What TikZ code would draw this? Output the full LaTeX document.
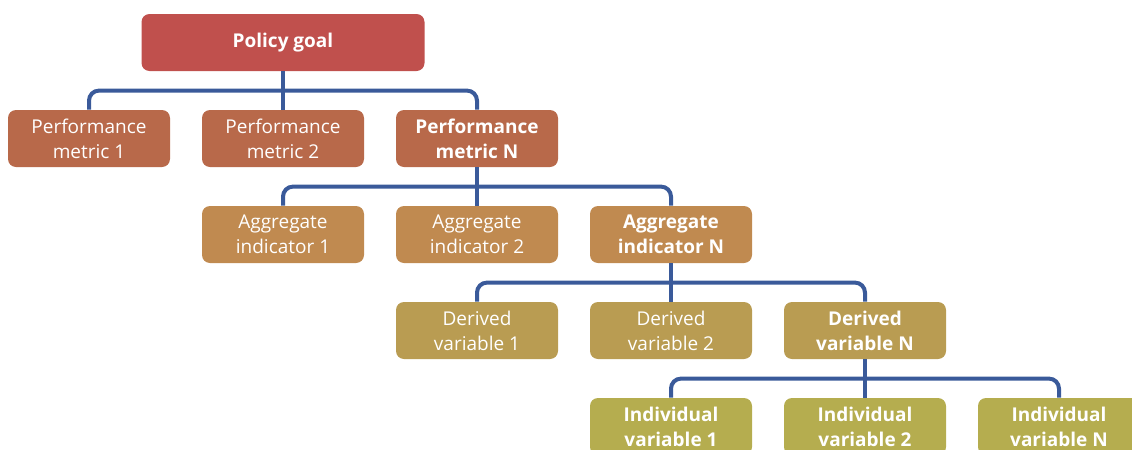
\documentclass[tikz,border=0pt]{standalone}
\usepackage{fontspec}
\setmainfont{Open Sans}
\usetikzlibrary{positioning}

\definecolor{goalred}{HTML}{C0504D}
\definecolor{metricred}{HTML}{B8694A}
\definecolor{aggbrown}{HTML}{C08A50}
\definecolor{derivedgold}{HTML}{B99C52}
\definecolor{indolive}{HTML}{B5AD4F}
\definecolor{linkblue}{HTML}{3A5A9A}

\begin{document}
\begin{tikzpicture}[%
        node distance=48pt and 97pt,
        on grid,
        box/.style={rectangle, rounded corners=4pt, inner sep=0pt,
                    minimum width=81pt, minimum height=28.5pt,
                    align=center, text=white,
                    font=\fontsize{9.5}{12.5}\selectfont},
        link/.style={draw=linkblue, line width=2pt, rounded corners=5pt}
        ]

        \useasboundingbox (0,0) rectangle (566pt,-225pt);

        \node[box, fill=goalred, minimum width=141.5pt, font=\fontsize{9.5}{12.5}\selectfont\bfseries]
              (goal) at (141.5pt,-21.25pt) {Policy goal};

        \node[box, fill=metricred] (m2) [below=of goal] {Performance\\metric 2};
        \node[box, fill=metricred] (m1) [left=of m2] {Performance\\metric 1};
        \node[box, fill=metricred] (m3) [right=of m2] {\bfseries Performance\\\bfseries metric N};

        \node[box, fill=aggbrown] (a2) [below=of m3] {Aggregate\\indicator 2};
        \node[box, fill=aggbrown] (a1) [left=of a2] {Aggregate\\indicator 1};
        \node[box, fill=aggbrown] (a3) [right=of a2] {\bfseries Aggregate\\\bfseries indicator N};

        \node[box, fill=derivedgold] (d2) [below=of a3] {Derived\\variable 2};
        \node[box, fill=derivedgold] (d1) [left=of d2] {Derived\\variable 1};
        \node[box, fill=derivedgold] (d3) [right=of d2] {\bfseries Derived\\\bfseries variable N};

        \node[box, fill=indolive] (i2) [below=of d3] {\bfseries Individual\\\bfseries variable 2};
        \node[box, fill=indolive] (i1) [left=of i2] {\bfseries Individual\\\bfseries variable 1};
        \node[box, fill=indolive] (i3) [right=of i2] {\bfseries Individual\\\bfseries variable N};

        \draw[link] (goal.south) -- (m2.north);
        \draw[link] (m1.north) |- ([yshift=9.5pt]m2.north) -| (m3.north);

        \draw[link] (m3.south) -- (a2.north);
        \draw[link] (a1.north) |- ([yshift=9.5pt]a2.north) -| (a3.north);

        \draw[link] (a3.south) -- (d2.north);
        \draw[link] (d1.north) |- ([yshift=9.5pt]d2.north) -| (d3.north);

        \draw[link] (d3.south) -- (i2.north);
        \draw[link] (i1.north) |- ([yshift=9.5pt]i2.north) -| (i3.north);

        \end{tikzpicture}
\end{document}
